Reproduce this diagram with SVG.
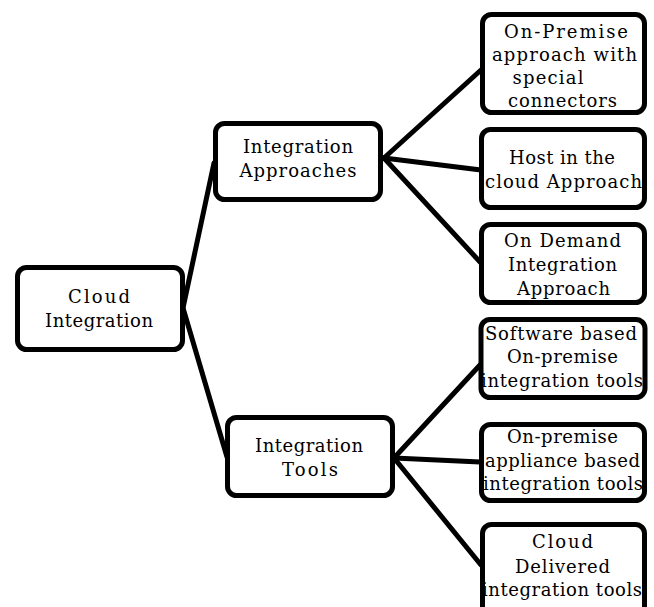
<svg xmlns="http://www.w3.org/2000/svg" width="654" height="607" viewBox="0 0 654 607">
<style>
.box{fill:#fff;stroke:#000;stroke-width:5}
.t{font-family:'DejaVu Serif','Liberation Serif',serif;font-size:18px;fill:#000;text-anchor:middle}
.c{stroke:#000;stroke-width:5;fill:none;stroke-linecap:round}
</style>
<rect width="654" height="607" fill="#fff"/>
<g id="connectors">
<line class="c" x1="183" y1="308" x2="214" y2="163"/>
<line class="c" x1="183" y1="308" x2="227" y2="457"/>
<line class="c" x1="384" y1="158" x2="481" y2="70"/>
<line class="c" x1="384" y1="158" x2="481" y2="170"/>
<line class="c" x1="384" y1="158" x2="481" y2="263"/>
<line class="c" x1="394" y1="458" x2="480" y2="365"/>
<line class="c" x1="394" y1="458" x2="480" y2="462"/>
<line class="c" x1="394" y1="458" x2="481" y2="565"/>
</g>
<g id="cloud-integration">
<rect class="box" x="17.5" y="267.5" width="165" height="82" rx="9"/>
<text class="t" x="99" y="303" textLength="62" lengthAdjust="spacing">Cloud</text>
<text class="t" x="99" y="327" textLength="108" lengthAdjust="spacing">Integration</text>
</g>
<g id="integration-approaches">
<rect class="box" x="215.5" y="123.5" width="165" height="76" rx="9"/>
<text class="t" x="298" y="153" textLength="110" lengthAdjust="spacing">Integration</text>
<text class="t" x="298" y="177" textLength="117" lengthAdjust="spacing">Approaches</text>
</g>
<g id="integration-tools">
<rect class="box" x="227.5" y="417.5" width="165" height="78" rx="9"/>
<text class="t" x="309" y="452" textLength="108" lengthAdjust="spacing">Integration</text>
<text class="t" x="310" y="476" textLength="56" lengthAdjust="spacing">Tools</text>
</g>
<g id="on-premise-approach">
<rect class="box" x="482.5" y="14.5" width="162" height="98" rx="9"/>
<text class="t" x="566" y="38" textLength="124" lengthAdjust="spacing">On-Premise</text>
<text class="t" x="564.5" y="61" textLength="145" lengthAdjust="spacing">approach with</text>
<text class="t" x="548" y="84" textLength="71" lengthAdjust="spacing">special</text>
<text class="t" x="562.5" y="107" textLength="109" lengthAdjust="spacing">connectors</text>
</g>
<g id="host-in-cloud">
<rect class="box" x="481.5" y="129.5" width="163" height="78" rx="9"/>
<text class="t" x="562" y="164" textLength="106" lengthAdjust="spacing">Host in the</text>
<text class="t" x="563.5" y="188" textLength="157" lengthAdjust="spacing">cloud Approach</text>
</g>
<g id="on-demand">
<rect class="box" x="481.5" y="224.5" width="163" height="78" rx="9"/>
<text class="t" x="562.5" y="247" textLength="117" lengthAdjust="spacing">On Demand</text>
<text class="t" x="562.5" y="271" textLength="109" lengthAdjust="spacing">Integration</text>
<text class="t" x="563.5" y="295" textLength="93" lengthAdjust="spacing">Approach</text>
</g>
<g id="software-based">
<rect class="box" x="481" y="319.5" width="164" height="78" rx="9"/>
<text class="t" x="561" y="340" textLength="152" lengthAdjust="spacing">Software based</text>
<text class="t" x="562.5" y="363" textLength="111" lengthAdjust="spacing">On-premise</text>
<text class="t" x="562" y="387" textLength="162" lengthAdjust="spacing">integration tools</text>
</g>
<g id="appliance-based">
<rect class="box" x="481.5" y="424.5" width="163" height="76" rx="9"/>
<text class="t" x="562.5" y="443" textLength="111" lengthAdjust="spacing">On-premise</text>
<text class="t" x="562.5" y="467" textLength="155" lengthAdjust="spacing">appliance based</text>
<text class="t" x="563" y="490" textLength="160" lengthAdjust="spacing">integration tools</text>
</g>
<g id="cloud-delivered">
<rect class="box" x="482.5" y="524.5" width="162" height="92" rx="9"/>
<text class="t" x="562.5" y="548" textLength="61" lengthAdjust="spacing">Cloud</text>
<text class="t" x="562.5" y="573" textLength="95" lengthAdjust="spacing">Delivered</text>
<text class="t" x="562" y="596" textLength="160" lengthAdjust="spacing">integration tools</text>
</g>
</svg>
